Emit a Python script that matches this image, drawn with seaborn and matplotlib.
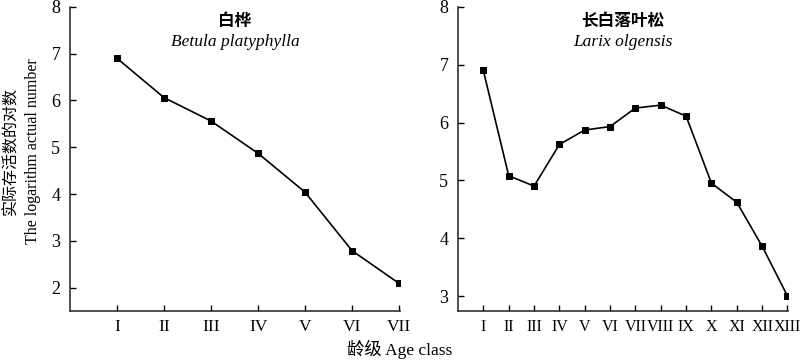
import numpy as np
import pandas as pd
import matplotlib
matplotlib.use('Agg')
import matplotlib.pyplot as plt
import seaborn as sns

# datos
clases_abedul = ['I', 'II', 'III', 'IV', 'V', 'VI', 'VII']
log_abedul = [6.90, 6.06, 5.56, 4.87, 4.04, 2.79, 2.09]

clases_alerce = ['I', 'II', 'III', 'IV', 'V', 'VI', 'VII', 'VIII', 'IX', 'X', 'XI', 'XII', 'XIII']
log_alerce = [6.90, 5.08, 4.90, 5.62, 5.87, 5.93, 6.25, 6.30, 6.11, 4.95, 4.62, 3.86, 3.00]

sns.set_style('white')
plt.rcParams['font.family'] = ['Liberation Serif', 'Noto Sans CJK SC']
plt.rcParams['text.color'] = 'black'
plt.rcParams['xtick.direction'] = 'in'
plt.rcParams['ytick.direction'] = 'in'

fig = plt.figure(figsize=(8, 3.6), dpi=100)
ax1 = fig.add_axes([0.0875, 0.136, 0.4125, 0.845])
ax2 = fig.add_axes([0.5725, 0.136, 0.4125, 0.845])

def dibujar(ax, clases, valores, titulo_cn, titulo_lat, ylim, tam_x):
    df = pd.DataFrame({'pos': np.arange(1, len(clases) + 1), 'valor': valores})
    sns.lineplot(data=df, x='pos', y='valor', ax=ax, color='black', marker='s',
                 markersize=5, markeredgecolor='black', linewidth=1.2)
    ax.set_xlim(0, len(clases) + 0.02)
    ax.set_ylim(*ylim)
    ax.set_xticks(df['pos'])
    ax.set_xticklabels(clases, fontsize=tam_x)
    ax.set_yticks(range(int(np.ceil(ylim[0])), 9))
    ax.tick_params(axis='y', left=True, labelsize=13, length=4, width=1, pad=7,
                   colors='black')
    ax.tick_params(axis='x', bottom=True, length=4, width=1, pad=6, colors='black')
    for s in ['top', 'right']:
        ax.spines[s].set_visible(False)
    for s in ['left', 'bottom']:
        ax.spines[s].set_color('#333333')
        ax.spines[s].set_linewidth(1.2)
    ax.set_xlabel('')
    ax.set_ylabel('')
    ax.text(0.5, 0.955, titulo_cn, transform=ax.transAxes, ha='center', va='center',
            fontsize=12, fontweight='bold', family=['Noto Sans CJK SC'])
    ax.text(0.5, 0.885, titulo_lat, transform=ax.transAxes, ha='center', va='center',
            fontsize=12.5, style='italic')

dibujar(ax1, clases_abedul, log_abedul, '白桦', 'Betula platyphylla', (1.5, 8), 12.5)
dibujar(ax2, clases_alerce, log_alerce, '长白落叶松', 'Larix olgensis', (2.74, 8), 11.5)

fig.text(0.013, 0.58, '实际存活数的对数', rotation=90, ha='center', va='center',
         fontsize=11.5, family=['Noto Sans CJK SC'])
fig.text(0.041, 0.58, 'The logarithm actual number', rotation=90, ha='center', va='center',
         fontsize=11.5)
fig.text(0.5, 0.028, '龄级 Age class', ha='center', va='center', fontsize=12.5)

fig.savefig('out.png', dpi=100)
